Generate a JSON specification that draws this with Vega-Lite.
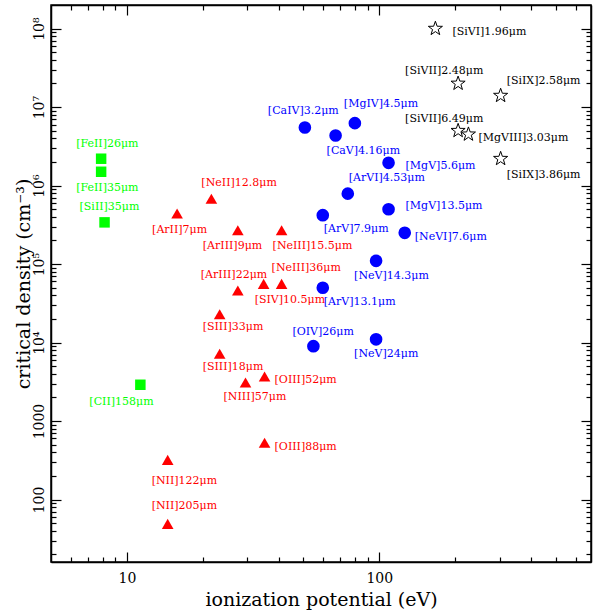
{
  "$schema": "https://vega.github.io/schema/vega-lite/v6.json",
  "width": 540,
  "height": 557,
  "autosize": "none",
  "padding": {"left": 51, "top": 5, "right": 4, "bottom": 49},
  "config": {
    "view": {"stroke": "black", "strokeWidth": 1.5},
    "axis": {
      "grid": false,
      "labelFont": "DejaVu Serif",
      "labelColor": "black",
      "labelFontSize": 14,
      "titleFont": "DejaVu Serif",
      "titleColor": "black",
      "titleFontSize": 19,
      "titleFontWeight": "normal"
    },
    "text": {"font": "DejaVu Serif", "fontSize": 11}
  },
  "data": {
    "values": [
      {"line": "[FeII]26μm", "ip": 7.9, "ncrit": 2.2e6, "cls": "low"},
      {"line": "[FeII]35μm", "ip": 7.9, "ncrit": 1.5e6, "cls": "low"},
      {"line": "[SiII]35μm", "ip": 8.15, "ncrit": 3.4e5, "cls": "low"},
      {"line": "[CII]158μm", "ip": 11.3, "ncrit": 2900, "cls": "low"},
      {"line": "[ArII]7μm", "ip": 15.8, "ncrit": 4.4e5, "cls": "mid"},
      {"line": "[NeII]12.8μm", "ip": 21.6, "ncrit": 6.8e5, "cls": "mid"},
      {"line": "[ArIII]9μm", "ip": 27.5, "ncrit": 2.7e5, "cls": "mid"},
      {"line": "[NeIII]15.5μm", "ip": 41.0, "ncrit": 2.7e5, "cls": "mid"},
      {"line": "[ArIII]22μm", "ip": 27.5, "ncrit": 4.6e4, "cls": "mid"},
      {"line": "[SIV]10.5μm", "ip": 34.8, "ncrit": 5.6e4, "cls": "mid"},
      {"line": "[NeIII]36μm", "ip": 41.0, "ncrit": 5.6e4, "cls": "mid"},
      {"line": "[SIII]33μm", "ip": 23.3, "ncrit": 2.3e4, "cls": "mid"},
      {"line": "[SIII]18μm", "ip": 23.3, "ncrit": 7200, "cls": "mid"},
      {"line": "[NIII]57μm", "ip": 29.5, "ncrit": 3100, "cls": "mid"},
      {"line": "[OIII]52μm", "ip": 35.1, "ncrit": 3700, "cls": "mid"},
      {"line": "[OIII]88μm", "ip": 35.1, "ncrit": 530, "cls": "mid"},
      {"line": "[NII]122μm", "ip": 14.5, "ncrit": 320, "cls": "mid"},
      {"line": "[NII]205μm", "ip": 14.5, "ncrit": 49, "cls": "mid"},
      {"line": "[CaIV]3.2μm", "ip": 50.7, "ncrit": 5.5e6, "cls": "high"},
      {"line": "[CaV]4.16μm", "ip": 67.1, "ncrit": 4.35e6, "cls": "high"},
      {"line": "[MgIV]4.5μm", "ip": 80.0, "ncrit": 6.25e6, "cls": "high"},
      {"line": "[MgV]5.6μm", "ip": 108.8, "ncrit": 1.95e6, "cls": "high"},
      {"line": "[ArVI]4.53μm", "ip": 75.0, "ncrit": 7.9e5, "cls": "high"},
      {"line": "[ArV]7.9μm", "ip": 59.7, "ncrit": 4.2e5, "cls": "high"},
      {"line": "[MgV]13.5μm", "ip": 108.8, "ncrit": 5.0e5, "cls": "high"},
      {"line": "[NeVI]7.6μm", "ip": 126.1, "ncrit": 2.5e5, "cls": "high"},
      {"line": "[NeV]14.3μm", "ip": 97.1, "ncrit": 1.1e5, "cls": "high"},
      {"line": "[ArV]13.1μm", "ip": 59.7, "ncrit": 5.0e4, "cls": "high"},
      {"line": "[OIV]26μm", "ip": 54.8, "ncrit": 9000, "cls": "high"},
      {"line": "[NeV]24μm", "ip": 97.1, "ncrit": 1.1e4, "cls": "high"},
      {"line": "[SiVI]1.96μm", "ip": 166.8, "ncrit": 1.0e8, "cls": "coronal"},
      {"line": "[SiVII]2.48μm", "ip": 205.2, "ncrit": 2.0e7, "cls": "coronal"},
      {"line": "[SiIX]2.58μm", "ip": 302.5, "ncrit": 1.4e7, "cls": "coronal"},
      {"line": "[SiVII]6.49μm", "ip": 205.2, "ncrit": 5.0e6, "cls": "coronal"},
      {"line": "[MgVIII]3.03μm", "ip": 225.5, "ncrit": 4.5e6, "cls": "coronal"},
      {"line": "[SiIX]3.86μm", "ip": 302.5, "ncrit": 2.2e6, "cls": "coronal"}
    ]
  },
  "resolve": {"axis": {"x": "independent", "y": "independent"}},
  "encoding": {
    "x": {"field": "ip", "type": "quantitative", "scale": {"type": "log", "domain": [5, 690], "nice": false}, "axis": null},
    "y": {"field": "ncrit", "type": "quantitative", "scale": {"type": "log", "domain": [16, 2e8], "nice": false}, "axis": null},
    "color": {"field": "cls", "type": "nominal", "scale": {"domain": ["low", "mid", "high", "coronal"], "range": ["#00ff00", "#ff0000", "#0000ff", "#000000"]}, "legend": null},
    "text": {"field": "line"}
  },
  "layer": [
    {
      "transform": [{"filter": "datum.cls != 'coronal'"}],
      "mark": {"type": "point", "filled": true, "opacity": 1},
      "encoding": {
        "x": {"field": "ip", "type": "quantitative", "scale": {"type": "log", "domain": [5, 690], "nice": false},
          "axis": {"orient": "bottom", "values": [10, 100], "format": "d", "domain": true, "domainColor": "black", "domainWidth": 1.5, "ticks": true, "tickSize": -10, "tickColor": "black", "tickWidth": 1.2, "labelPadding": 19, "title": "ionization potential (eV)", "titlePadding": 5}},
        "y": {"field": "ncrit", "type": "quantitative", "scale": {"type": "log", "domain": [16, 2e8], "nice": false},
          "axis": {"orient": "left", "values": [100, 1000, 10000, 100000, 1000000, 10000000, 100000000], "domain": true, "domainColor": "black", "domainWidth": 1.5, "ticks": true, "tickSize": -10, "tickColor": "black", "tickWidth": 1.2, "labelPadding": 15, "labelAngle": -90, "labelAlign": "center", "labelBaseline": "bottom",
            "labelExpr": "datum.value == 100 ? '100' : datum.value == 1000 ? '1000' : datum.value == 1e4 ? '10⁴' : datum.value == 1e5 ? '10⁵' : datum.value == 1e6 ? '10⁶' : datum.value == 1e7 ? '10⁷' : '10⁸'",
            "title": "critical density (cm⁻³)", "titlePadding": -1}},
        "shape": {"field": "cls", "type": "nominal", "scale": {"domain": ["low", "mid", "high"], "range": ["square", "triangle-up", "circle"]}, "legend": null},
        "size": {"field": "cls", "type": "ordinal", "scale": {"domain": ["low", "mid", "high"], "range": [110, 160, 150]}, "legend": null},
        "text": null
      }
    },
    {
      "transform": [{"filter": "datum.cls == 'coronal'"}],
      "mark": {"type": "point", "shape": "M0,-1L0.235,-0.324L0.951,-0.309L0.38,0.124L0.588,0.809L0,0.4L-0.588,0.809L-0.38,0.124L-0.951,-0.309L-0.235,-0.324Z", "size": 220, "filled": false, "stroke": "black", "strokeWidth": 1, "fill": "white", "fillOpacity": 1},
      "encoding": {
        "x": {"field": "ip", "type": "quantitative", "scale": {"type": "log", "domain": [5, 690], "nice": false},
          "axis": {"orient": "bottom", "values": [6, 7, 8, 9, 20, 30, 40, 50, 60, 70, 80, 90, 200, 300, 400, 500, 600], "domain": false, "ticks": true, "tickSize": -5, "tickColor": "black", "tickWidth": 1.2, "labels": false, "title": null}},
        "y": {"field": "ncrit", "type": "quantitative", "scale": {"type": "log", "domain": [16, 2e8], "nice": false},
          "axis": {"orient": "left", "values": [20, 30, 40, 50, 60, 70, 80, 90, 200, 300, 400, 500, 600, 700, 800, 900, 2000, 3000, 4000, 5000, 6000, 7000, 8000, 9000, 20000, 30000, 40000, 50000, 60000, 70000, 80000, 90000, 200000, 300000, 400000, 500000, 600000, 700000, 800000, 900000, 2000000, 3000000, 4000000, 5000000, 6000000, 7000000, 8000000, 9000000, 20000000, 30000000, 40000000, 50000000, 60000000, 70000000, 80000000, 90000000], "domain": false, "ticks": true, "tickSize": -5, "tickColor": "black", "tickWidth": 1.2, "labels": false, "title": null}},
        "color": null,
        "text": null
      }
    },
    {
      "mark": {"type": "point", "opacity": 0},
      "encoding": {
        "x": {"field": "ip", "type": "quantitative", "scale": {"type": "log", "domain": [5, 690], "nice": false},
          "axis": {"orient": "top", "values": [10, 100], "domain": true, "domainColor": "black", "domainWidth": 1.5, "ticks": true, "tickSize": -10, "tickColor": "black", "tickWidth": 1.2, "labels": false, "title": null}},
        "y": {"field": "ncrit", "type": "quantitative", "scale": {"type": "log", "domain": [16, 2e8], "nice": false},
          "axis": {"orient": "right", "values": [100, 1000, 10000, 100000, 1000000, 10000000, 100000000], "domain": true, "domainColor": "black", "domainWidth": 1.5, "ticks": true, "tickSize": -10, "tickColor": "black", "tickWidth": 1.2, "labels": false, "title": null}},
        "text": null
      }
    },
    {
      "mark": {"type": "point", "opacity": 0},
      "encoding": {
        "x": {"field": "ip", "type": "quantitative", "scale": {"type": "log", "domain": [5, 690], "nice": false},
          "axis": {"orient": "top", "values": [6, 7, 8, 9, 20, 30, 40, 50, 60, 70, 80, 90, 200, 300, 400, 500, 600], "domain": false, "ticks": true, "tickSize": -5, "tickColor": "black", "tickWidth": 1.2, "labels": false, "title": null}},
        "y": {"field": "ncrit", "type": "quantitative", "scale": {"type": "log", "domain": [16, 2e8], "nice": false},
          "axis": {"orient": "right", "values": [20, 30, 40, 50, 60, 70, 80, 90, 200, 300, 400, 500, 600, 700, 800, 900, 2000, 3000, 4000, 5000, 6000, 7000, 8000, 9000, 20000, 30000, 40000, 50000, 60000, 70000, 80000, 90000, 200000, 300000, 400000, 500000, 600000, 700000, 800000, 900000, 2000000, 3000000, 4000000, 5000000, 6000000, 7000000, 8000000, 9000000, 20000000, 30000000, 40000000, 50000000, 60000000, 70000000, 80000000, 90000000], "domain": false, "ticks": true, "tickSize": -5, "tickColor": "black", "tickWidth": 1.2, "labels": false, "title": null}},
        "text": null
      }
    },
    {"transform": [{"filter": {"field": "line", "oneOf": ["[FeII]26μm", "[SiII]35μm"]}}], "mark": {"type": "text", "align": "left", "baseline": "middle", "dx": -25, "dy": -15}},
    {"transform": [{"filter": {"field": "line", "oneOf": ["[FeII]35μm", "[ArII]7μm"]}}], "mark": {"type": "text", "align": "left", "baseline": "middle", "dx": -25, "dy": 16}},
    {"transform": [{"filter": {"field": "line", "oneOf": ["[CII]158μm"]}}], "mark": {"type": "text", "align": "left", "baseline": "middle", "dx": -51, "dy": 17}},
    {"transform": [{"filter": {"field": "line", "oneOf": ["[NeIII]15.5μm", "[SIV]10.5μm", "[CaV]4.16μm"]}}], "mark": {"type": "text", "align": "left", "baseline": "middle", "dx": -9, "dy": 16}},
    {"transform": [{"filter": {"field": "line", "oneOf": ["[NeII]12.8μm", "[NeIII]36μm"]}}], "mark": {"type": "text", "align": "left", "baseline": "middle", "dx": -10, "dy": -16}},
    {"transform": [{"filter": {"field": "line", "oneOf": ["[MgIV]4.5μm"]}}], "mark": {"type": "text", "align": "left", "baseline": "middle", "dx": -11, "dy": -19}},
    {"transform": [{"filter": {"field": "line", "oneOf": ["[ArIII]9μm"]}}], "mark": {"type": "text", "align": "left", "baseline": "middle", "dx": -35, "dy": 16}},
    {"transform": [{"filter": {"field": "line", "oneOf": ["[ArIII]22μm", "[CaIV]3.2μm"]}}], "mark": {"type": "text", "align": "left", "baseline": "middle", "dx": -37, "dy": -16}},
    {"transform": [{"filter": {"field": "line", "oneOf": ["[SIII]33μm", "[SIII]18μm"]}}], "mark": {"type": "text", "align": "left", "baseline": "middle", "dx": -17, "dy": 13}},
    {"transform": [{"filter": {"field": "line", "oneOf": ["[NIII]57μm", "[NeV]14.3μm", "[NeV]24μm"]}}], "mark": {"type": "text", "align": "left", "baseline": "middle", "dx": -22, "dy": 15}},
    {"transform": [{"filter": {"field": "line", "oneOf": ["[OIII]52μm", "[OIII]88μm", "[NeVI]7.6μm", "[MgVIII]3.03μm"]}}], "mark": {"type": "text", "align": "left", "baseline": "middle", "dx": 10, "dy": 4}},
    {"transform": [{"filter": {"field": "line", "oneOf": ["[NII]122μm"]}}], "mark": {"type": "text", "align": "left", "baseline": "middle", "dx": -16, "dy": 21}},
    {"transform": [{"filter": {"field": "line", "oneOf": ["[NII]205μm"]}}], "mark": {"type": "text", "align": "left", "baseline": "middle", "dx": -16, "dy": -18}},
    {"transform": [{"filter": {"field": "line", "oneOf": ["[ArVI]4.53μm"]}}], "mark": {"type": "text", "align": "left", "baseline": "middle", "dx": 1, "dy": -16}},
    {"transform": [{"filter": {"field": "line", "oneOf": ["[ArV]7.9μm", "[ArV]13.1μm"]}}], "mark": {"type": "text", "align": "left", "baseline": "middle", "dx": 1, "dy": 14}},
    {"transform": [{"filter": {"field": "line", "oneOf": ["[MgV]5.6μm", "[SiVI]1.96μm"]}}], "mark": {"type": "text", "align": "left", "baseline": "middle", "dx": 17, "dy": 3}},
    {"transform": [{"filter": {"field": "line", "oneOf": ["[MgV]13.5μm"]}}], "mark": {"type": "text", "align": "left", "baseline": "middle", "dx": 17, "dy": -3}},
    {"transform": [{"filter": {"field": "line", "oneOf": ["[OIV]26μm"]}}], "mark": {"type": "text", "align": "left", "baseline": "middle", "dx": -21, "dy": -14}},
    {"transform": [{"filter": {"field": "line", "oneOf": ["[SiVII]2.48μm", "[SiVII]6.49μm"]}}], "mark": {"type": "text", "align": "left", "baseline": "middle", "dx": -53, "dy": -12}},
    {"transform": [{"filter": {"field": "line", "oneOf": ["[SiIX]2.58μm"]}}], "mark": {"type": "text", "align": "left", "baseline": "middle", "dx": 6, "dy": -15}},
    {"transform": [{"filter": {"field": "line", "oneOf": ["[SiIX]3.86μm"]}}], "mark": {"type": "text", "align": "left", "baseline": "middle", "dx": 6, "dy": 16}}
  ]
}
